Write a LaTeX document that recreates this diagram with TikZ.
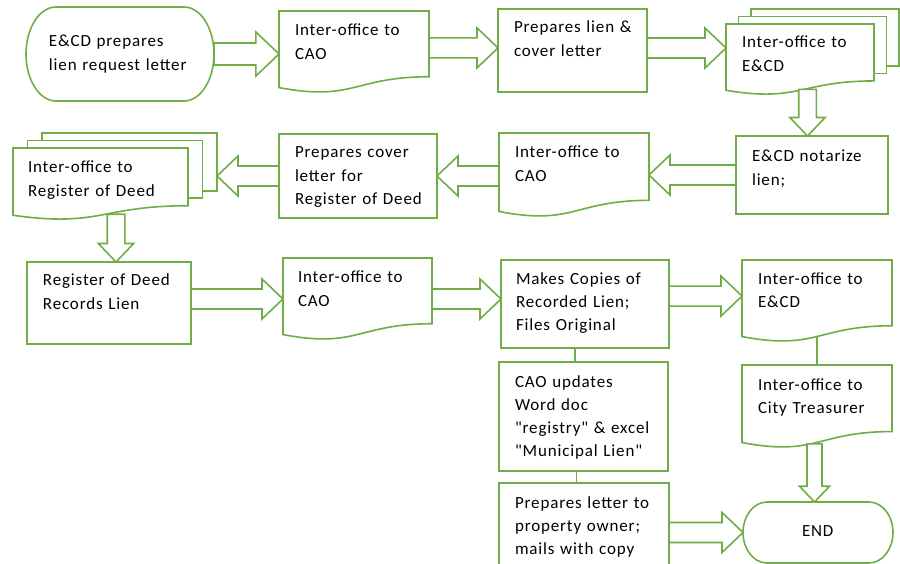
\documentclass[tikz,border=0pt]{standalone}
\usepackage{fontspec}
\setmainfont{Carlito}[LetterSpace=5,WordSpace=0.6,Ligatures=TeXOff]
\usepackage{tikz}
\usetikzlibrary{calc}
\definecolor{liengreen}{RGB}{112,173,71}
\pgfdeclarelayer{background}
\pgfsetlayers{background,main}

\newcommand{\boxfont}{\fontsize{17}{23.3}\selectfont}

% document outline, wavy bottom
\newcommand{\docframe}[1]{%
  \draw[flow, fill=white] (#1.north west) -- (#1.north east)
    -- ($(#1.north east)!.802!(#1.south east)$)
    .. controls ($(#1.north)!.802!(#1.south)$) and ($(#1.north)!1.107!(#1.south)$)
    .. ($(#1.north west)!.934!(#1.south west)$) -- cycle;}
% sheets behind a multi document
\newcommand{\docstack}[3]{%
  \foreach \i in {2,1}
    \draw[flow, fill=white] ($(#1.north west)+(\i*#2,-\i*#3)$)
      rectangle ($(#1.north east)!.802!(#1.south east)+(\i*#2,-\i*#3)$);}
% terminal outline with elliptic ends
\newcommand{\termframe}[3]{%
  \draw[flow, fill=white] ([xshift=#2]#1.north west) -- ([xshift=-#2]#1.north east)
    arc[start angle=90, end angle=-90, x radius=#2, y radius=#3]
    -- ([xshift=#2]#1.south west)
    arc[start angle=270, end angle=90, x radius=#2, y radius=#3] -- cycle;}
% hollow block arrow from #2 to tip #3
\newcommand{\fatarrow}[3][1]{%
  \path (#2) coordinate (fa-s);
  \path (#3) coordinate (fa-t);
  \path ($(fa-t)!#1*21pt!(fa-s)$) coordinate (fa-h);
  \draw[flow, fill=white] ($(fa-s)!#1*10pt!90:(fa-t)$) -- ($(fa-h)!#1*10pt!-90:(fa-s)$)
    -- ($(fa-h)!#1*20pt!-90:(fa-s)$) -- (fa-t) -- ($(fa-h)!#1*20pt!90:(fa-s)$)
    -- ($(fa-h)!#1*10pt!90:(fa-s)$) -- ($(fa-s)!#1*10pt!-90:(fa-t)$) -- cycle;}

\tikzset{
  box indent/.store in=\boxindent, box indent=16pt,
  flow/.style={draw=liengreen, line width=1.6pt, line join=miter},
  stepbox/.style n args={3}{anchor=north west, inner sep=0pt, outer sep=0pt,
    text width=#1, text height=#2, text depth=#3, align=left, font=\boxfont,
    execute at begin node={\advance\leftskip\boxindent\relax}},
  procbox/.style n args={3}{stepbox={#1}{#2}{#3}, flow, fill=white},
}

\begin{document}
\begin{tikzpicture}[x=1pt, y=-1pt]
  \useasboundingbox (0,0) rectangle (900,564);

%first row
  \node[stepbox={188pt}{40pt}{54pt}, box indent=23pt] (term) at (26,7) {E\&CD prepares\\lien request letter};
  \node[stepbox={150pt}{25pt}{57pt}] (cao1) at (279,11) {Inter-office to\\CAO};
  \node[procbox={149pt}{24pt}{59pt}] (lien) at (498,9) {Prepares lien \&\\cover letter};
  \node[stepbox={148pt}{24pt}{47pt}] (ecd1) at (726,24) {Inter-office to\\E\&CD};

%second row, right to left
  \node[procbox={152pt}{26pt}{52pt}] (notar) at (736,136) {E\&CD notarize\\lien;};
  \node[stepbox={150pt}{25pt}{59pt}] (cao2) at (499,133) {Inter-office to\\CAO};
  \node[procbox={158pt}{24pt}{60pt}] (cover) at (279,134) {Prepares cover\\letter for\\Register of Deed};
  \node[stepbox={175pt}{25pt}{47pt}, box indent=15pt] (regdoc) at (13,148) {Inter-office to\\Register of Deed};

%third row
  \node[procbox={164pt}{24pt}{58pt}] (recorded) at (27,262) {Register of Deed\\Records Lien};
  \node[stepbox={149pt}{25pt}{57pt}, box indent=15pt] (cao3) at (283,258) {Inter-office to\\CAO};
  \node[procbox={168pt}{24pt}{64pt}, box indent=15pt] (copies) at (501,260) {Makes Copies of\\Recorded Lien;\\Files Original};
  \node[stepbox={150pt}{24pt}{58pt}] (ecd3) at (742,260) {Inter-office to\\E\&CD};
  \node[procbox={169pt}{25pt}{84pt}] (updates) at (499,362) {CAO updates\\Word doc\\"registry" \& excel\\"Municipal Lien"};
  \node[stepbox={150pt}{25pt}{58pt}] (treas) at (742,365) {Inter-office to\\City Treasurer};
  \node[procbox={170pt}{25pt}{75pt}] (letter) at (499,483) {Prepares letter to\\property owner;\\mails with copy};
  \node[stepbox={150pt}{34pt}{27pt}, box indent=59pt] (end) at (743,502) {END};

%outlines behind the texts
  \begin{pgfonlayer}{background}
    \fill[white] (0,0) rectangle (900,564);
    \termframe{term}{30pt}{47pt}
    \termframe{end}{24pt}{30.5pt}
    \docframe{cao1}
    \docframe{cao2}
    \docframe{cao3}
    \docframe{ecd3}
    \docframe{treas}
    \docstack{ecd1}{12.5}{7.5}
    \docframe{ecd1}
    \docstack{regdoc}{14.5}{7.5}
    \docframe{regdoc}
  \end{pgfonlayer}

%block arrows
  \fatarrow[1.1]{term.east}{term.east -| cao1.west}
  \fatarrow{$(cao1.north east)!.45!(cao1.south east)$}{fa-s -| lien.west}
  \fatarrow{$(lien.north east)!.47!(lien.south east)$}{fa-s -| ecd1.west}
  \coordinate (ecd-w) at ($(ecd1.north)!.92!(ecd1.south)+(7.5,0)$);
  \fatarrow[.88]{ecd-w}{ecd-w |- notar.north}
  \fatarrow{notar.west}{notar.west -| cao2.east}
  \fatarrow{cao2.west |- cover.east}{cover.east}
  \fatarrow{cover.west}{$(cover.west -| regdoc.east)+(29,0)$}
  \coordinate (reg-w) at ($(regdoc.north)!.92!(regdoc.south)+(15.5,0)$);
  \fatarrow[.88]{reg-w}{reg-w |- recorded.north}
  \fatarrow{recorded.east |- cao3.west}{cao3.west}
  \fatarrow{cao3.east}{cao3.east -| copies.west}
  \fatarrow{$(copies.north east)!.41!(copies.south east)$}{fa-s -| ecd3.west}
  \coordinate (treas-w) at ($(treas.north)!.95!(treas.south)+(-2.5,0)$);
  \fatarrow[.75]{treas-w}{treas-w |- end.north}
  \fatarrow{letter.east |- end.west}{end.west}

%plain links
  \coordinate (c-l) at ($(copies.south)+(-10,0)$);
  \draw[flow] (c-l) -- (c-l |- updates.north);
  \coordinate (u-l) at ($(updates.south)+(-7,0)$);
  \draw[flow] (u-l) -- (u-l |- letter.north);
  \draw[flow] ($(ecd3.north)!.933!(ecd3.south)$) -- (treas.north);
\end{tikzpicture}
\end{document}
